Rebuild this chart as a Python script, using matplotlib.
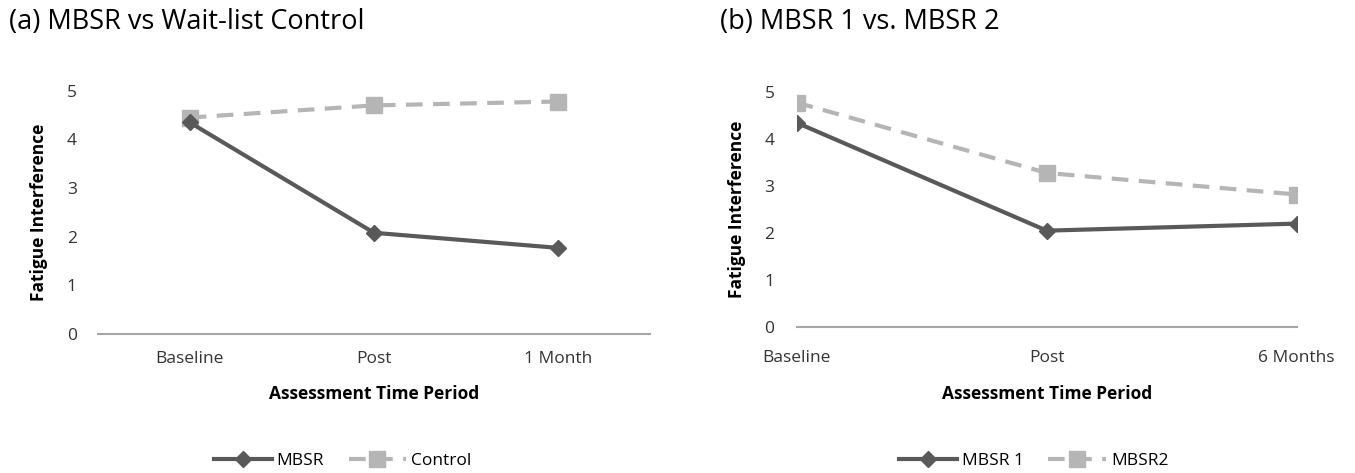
import matplotlib.pyplot as plt

plt.rcParams['font.family'] = ['Open Sans', 'DejaVu Sans']

# Data
labels_a = ["Baseline", "Post", "1 Month"]
mbsr_a = [4.35, 2.08, 1.77]
control_a = [4.45, 4.70, 4.78]

labels_b = ["Baseline", "Post", "6 Months"]
mbsr1_b = [4.35, 2.05, 2.20]
mbsr2_b = [4.78, 3.28, 2.82]

dark = "#595959"
light = "#b5b5b5"

fig = plt.figure(figsize=(13.55, 4.73), dpi=100)
ax1 = fig.add_axes([0.072, 0.294, 0.408, 0.514])
ax2 = fig.add_axes([0.588, 0.309, 0.369, 0.496])


def style(ax, labels, ylab_x, xlab_y, xpad, ypad):
    ax.set_ylim(0, 5)
    ax.set_yticks(range(6))
    ax.set_xticks(range(len(labels)))
    ax.set_xticklabels(labels)
    for s in ["top", "right", "left"]:
        ax.spines[s].set_visible(False)
    ax.spines["bottom"].set_color("#a6a6a6")
    ax.spines["bottom"].set_linewidth(1.5)
    ax.tick_params(length=0, labelsize=12.5, colors="#333333")
    ax.tick_params(axis="x", pad=xpad)
    ax.tick_params(axis="y", pad=ypad)
    xl = ax.set_xlabel("Assessment Time Period", fontsize=12.5, fontweight="bold")
    xl.set_va("center")
    ax.xaxis.set_label_coords(0.5, xlab_y)
    ax.set_ylabel("Fatigue Interference", fontsize=12.5, fontweight="bold")
    ax.yaxis.set_label_coords(ylab_x, 0.5)


x = range(3)
ax1.plot(x, control_a, color=light, lw=3, ls=(0, (4, 2.5)), marker="s", ms=12, label="Control")
ax1.plot(x, mbsr_a, color=dark, lw=3, marker="D", ms=8, label="MBSR")
ax1.set_xlim(-0.5, 2.5)
style(ax1, labels_a, -0.089, -0.247, 12, 15)
h, l = ax1.get_legend_handles_labels()
fig.legend(h[::-1], l[::-1], loc="center", bbox_to_anchor=(0.253, 0.025), ncol=2,
           frameon=False, fontsize=12.5, handlelength=3.3, handletextpad=0.3, columnspacing=1.4)
fig.text(0.007, 0.953, "(a) MBSR vs Wait-list Control", fontsize=19.5, va="center")

ax2.plot(x, mbsr2_b, color=light, lw=3, ls=(0, (4, 2.5)), marker="s", ms=12, label="MBSR2")
ax2.plot(x, mbsr1_b, color=dark, lw=3, marker="D", ms=8, label="MBSR 1")
ax2.set_xlim(0, 2)
style(ax2, labels_b, -0.102, -0.285, 17, 16)
h, l = ax2.get_legend_handles_labels()
fig.legend(h[::-1], l[::-1], loc="center", bbox_to_anchor=(0.763, 0.025), ncol=2,
           frameon=False, fontsize=12.5, handlelength=3.3, handletextpad=0.3, columnspacing=1.4)
fig.text(0.531, 0.953, "(b) MBSR 1 vs. MBSR 2", fontsize=19.5, va="center")

fig.savefig("out.png", dpi=100)
